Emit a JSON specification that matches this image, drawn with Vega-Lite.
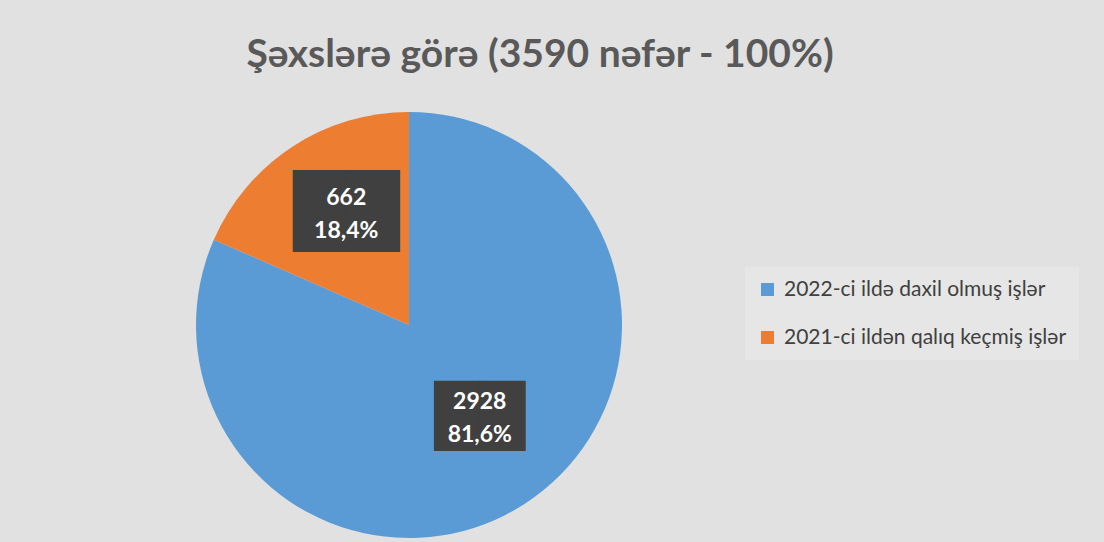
{
  "$schema": "https://vega.github.io/schema/vega-lite/v6.json",
  "width": 802,
  "height": 434,
  "autosize": {"type": "none"},
  "padding": {"left": 8, "top": 108, "right": 294, "bottom": 0},
  "background": "#e1e1e1",
  "title": {
    "text": "Şəxslərə görə (3590 nəfər - 100%)",
    "font": "Lato",
    "fontSize": 39,
    "fontWeight": "bold",
    "color": "#595959",
    "anchor": "middle",
    "dx": 131,
    "offset": 33
  },
  "data": {
    "values": [
      {"category": "2022-ci ildə daxil olmuş işlər", "count": 2928, "percent": "81,6%"},
      {"category": "2021-ci ildən qalıq keçmiş işlər", "count": 662, "percent": "18,4%"}
    ]
  },
  "encoding": {
    "theta": {"field": "count", "type": "quantitative", "stack": true},
    "order": {"field": "count", "type": "quantitative", "sort": "descending"}
  },
  "layer": [
    {
      "mark": {"type": "arc", "outerRadius": 213},
      "encoding": {
        "color": {
          "field": "category",
          "type": "nominal",
          "scale": {
            "domain": ["2022-ci ildə daxil olmuş işlər", "2021-ci ildən qalıq keçmiş işlər"],
            "range": ["#5B9BD5", "#ED7D31"]
          },
          "legend": {
            "orient": "none",
            "legendX": 737,
            "legendY": 159,
            "title": null,
            "symbolType": "square",
            "symbolSize": 169,
            "symbolStrokeWidth": 0,
            "labelFont": "Lato",
            "labelFontSize": 21,
            "labelColor": "#404040",
            "labelLimit": 400,
            "labelOffset": 6,
            "fillColor": "#e6e6e6",
            "padding": 12,
            "rowPadding": 26
          }
        }
      }
    },
    {
      "mark": {"type": "text", "radius": 122, "dx": 4, "dy": -9, "font": "DejaVu Sans", "baseline": "middle", "color": "#404040"},
      "encoding": {
        "text": {"value": "██"},
        "size": {"condition": {"test": "datum.count < 1000", "value": 69}, "value": 59}
      }
    },
    {
      "mark": {"type": "text", "radius": 122, "dx": 4, "dy": -25, "font": "Lato", "fontSize": 23, "fontWeight": "bold", "baseline": "middle", "color": "white"},
      "encoding": {"text": {"field": "count", "type": "quantitative", "format": "d"}}
    },
    {
      "mark": {"type": "text", "radius": 122, "dx": 4, "dy": 8, "font": "Lato", "fontSize": 23, "fontWeight": "bold", "baseline": "middle", "color": "white"},
      "encoding": {"text": {"field": "percent", "type": "nominal"}}
    }
  ],
  "config": {"view": {"stroke": null}}
}
